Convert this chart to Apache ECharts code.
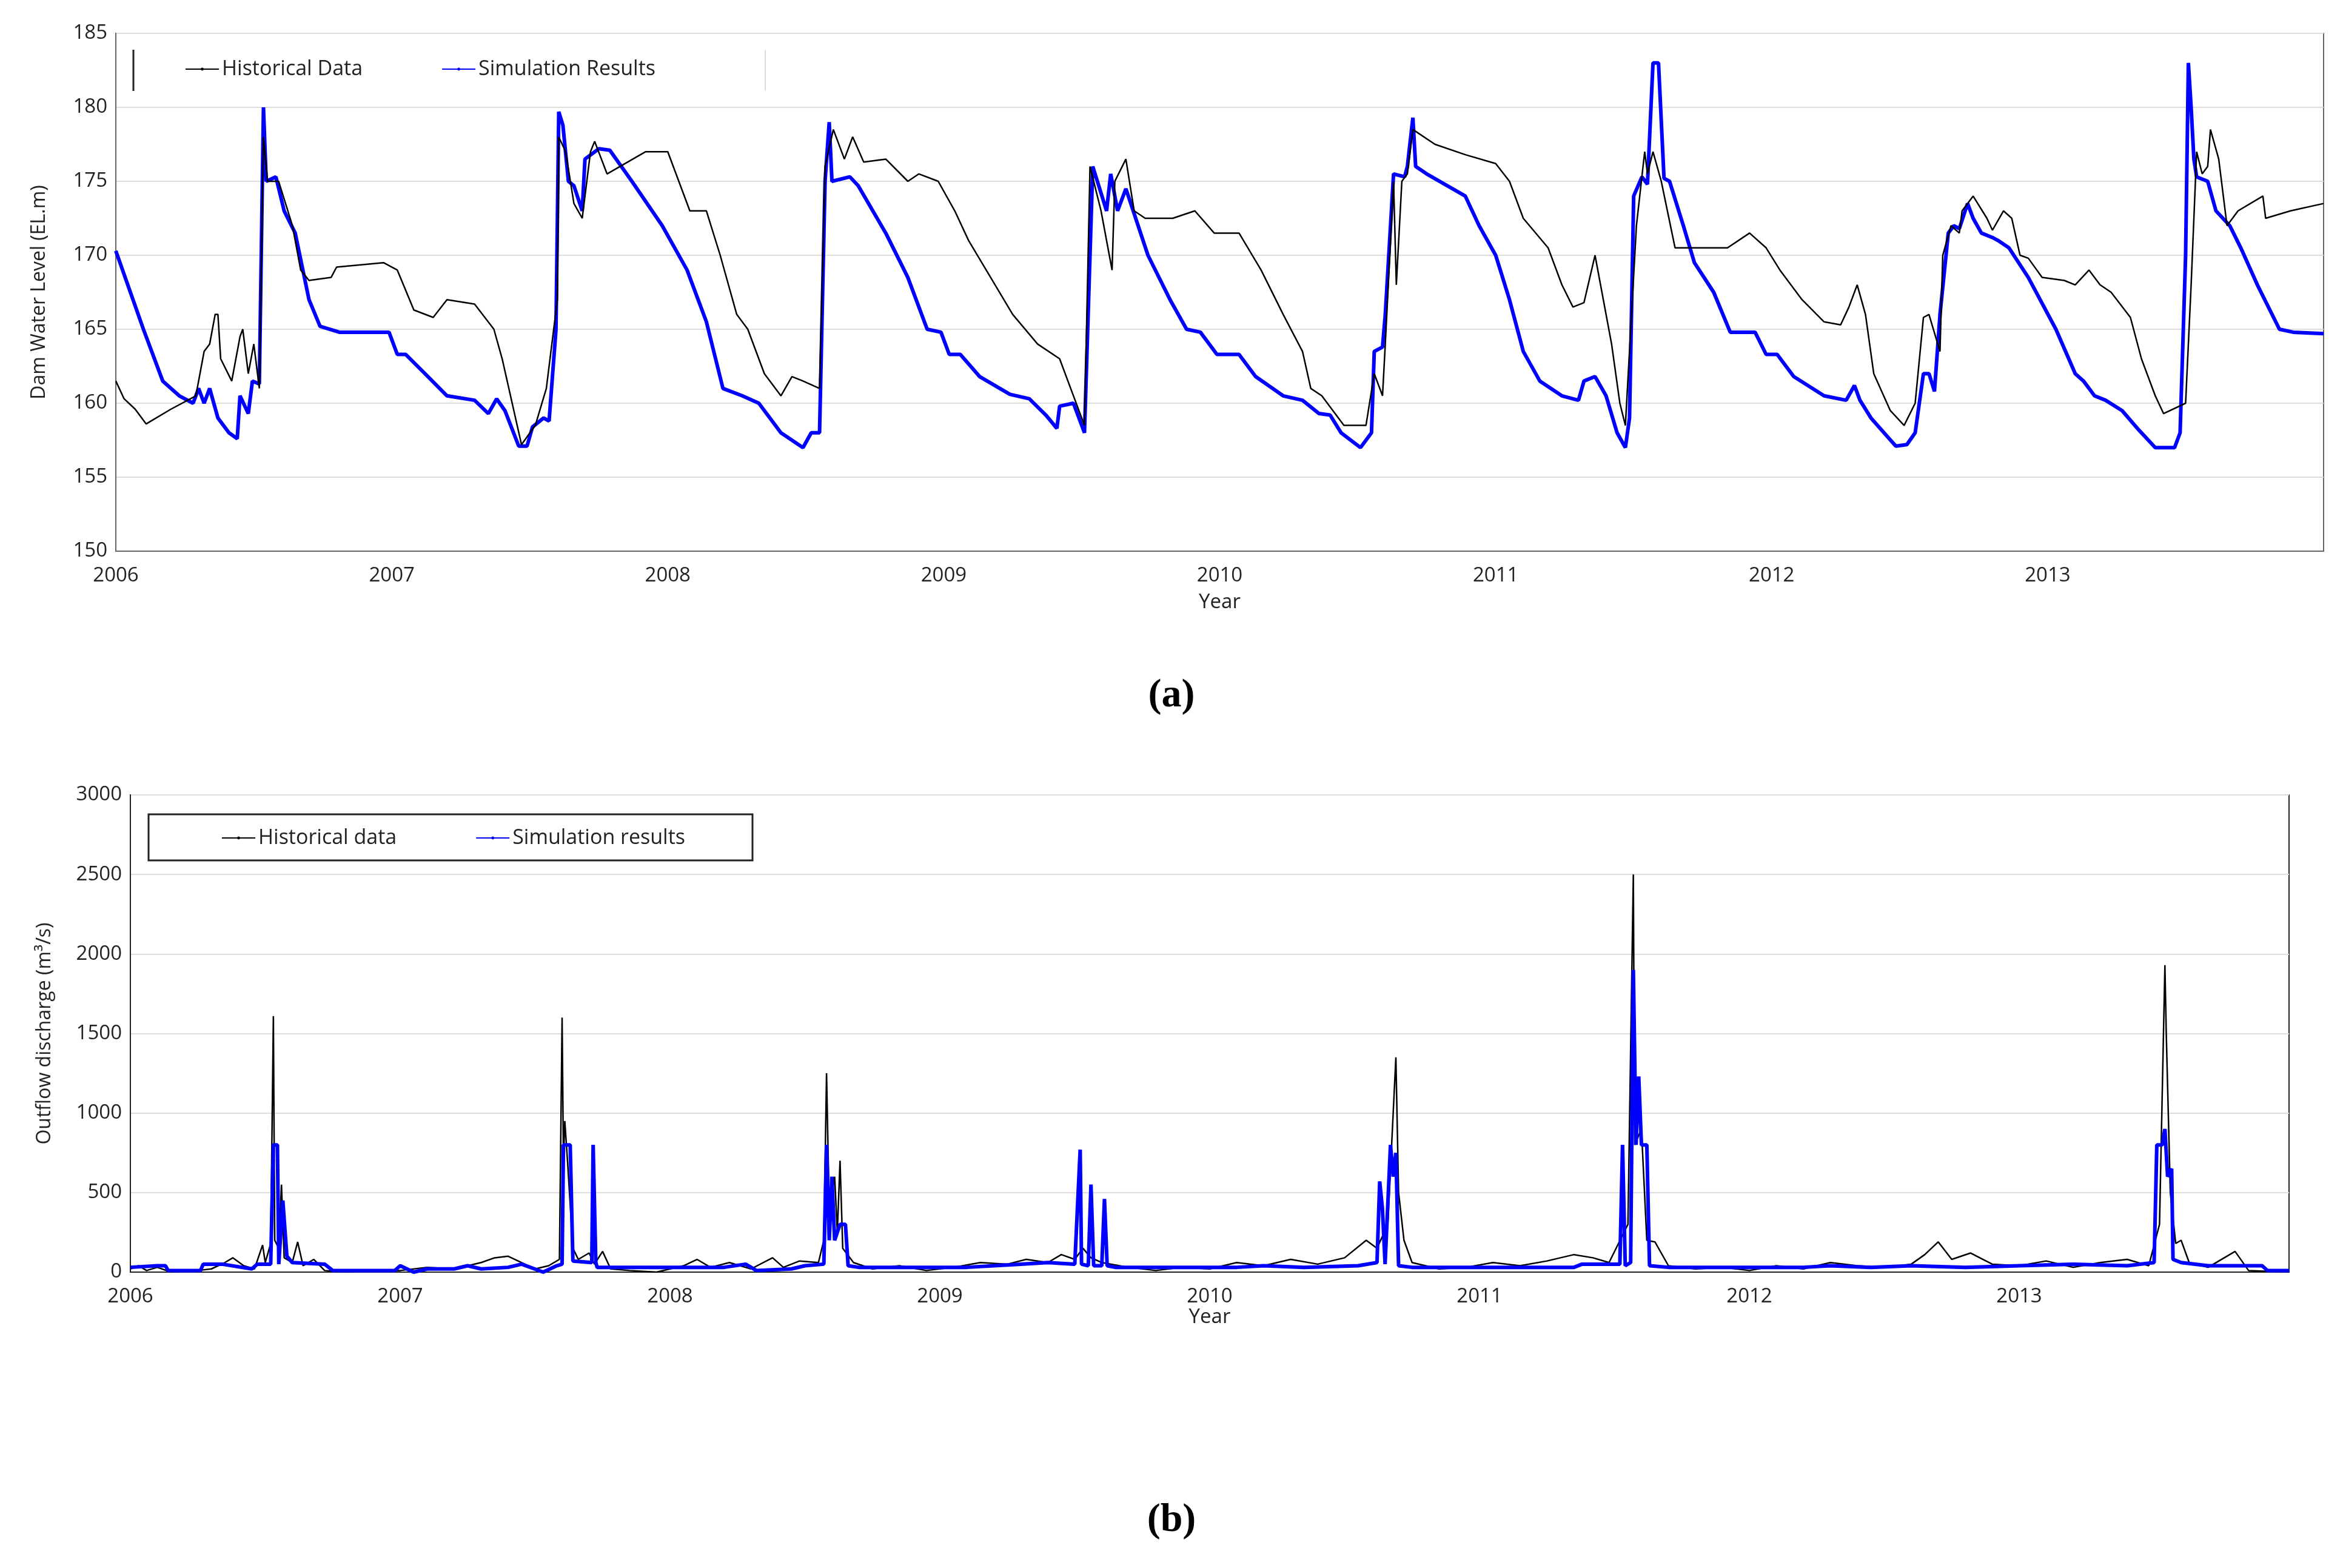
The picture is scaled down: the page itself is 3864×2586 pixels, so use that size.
<!DOCTYPE html>
<html><head><meta charset="utf-8">
<script src="https://cdn.jsdelivr.net/npm/echarts@6/dist/echarts.min.js"></script>
<style>html,body{margin:0;padding:0;background:#fff}#c{width:3864px;height:2586px}</style>
</head><body><div id="c"></div>
<script>
const yearTicks = [2006,2007,2008,2009,2010,2011,2012,2013];
const levelHist = [[2006.0,161.5],[2006.03,160.3],[2006.07,159.6],[2006.11,158.6],[2006.2,159.6],[2006.29,160.5],[2006.32,163.5],[2006.34,164],[2006.36,166],[2006.37,166],[2006.38,163],[2006.42,161.5],[2006.45,164.5],[2006.46,165],[2006.48,162],[2006.5,164],[2006.52,161],[2006.535,178],[2006.55,175],[2006.59,175],[2006.64,172],[2006.67,169],[2006.7,168.3],[2006.78,168.5],[2006.8,169.2],[2006.97,169.5],[2007.02,169],[2007.08,166.3],[2007.15,165.8],[2007.2,167],[2007.3,166.7],[2007.37,165],[2007.4,163],[2007.47,157.2],[2007.52,158.5],[2007.56,161],[2007.6,167],[2007.605,178],[2007.63,177],[2007.66,173.5],[2007.69,172.5],[2007.72,177],[2007.735,177.7],[2007.78,175.5],[2007.92,177],[2008.0,177],[2008.04,175],[2008.08,173],[2008.14,173],[2008.19,170],[2008.25,166],[2008.29,165],[2008.35,162],[2008.41,160.5],[2008.45,161.8],[2008.49,161.5],[2008.55,161],[2008.57,176],[2008.6,178.5],[2008.64,176.5],[2008.67,178],[2008.71,176.3],[2008.79,176.5],[2008.87,175],[2008.91,175.5],[2008.98,175],[2009.04,173],[2009.09,171],[2009.17,168.5],[2009.25,166],[2009.34,164],[2009.42,163],[2009.46,161],[2009.51,158.5],[2009.53,176],[2009.57,173],[2009.61,169],[2009.62,175],[2009.66,176.5],[2009.69,173],[2009.73,172.5],[2009.83,172.5],[2009.91,173],[2009.98,171.5],[2010.07,171.5],[2010.15,169],[2010.23,166],[2010.3,163.5],[2010.33,161],[2010.37,160.5],[2010.45,158.5],[2010.53,158.5],[2010.56,162],[2010.59,160.5],[2010.6,164],[2010.63,175],[2010.64,168],[2010.66,175],[2010.68,175.5],[2010.7,178.5],[2010.78,177.5],[2010.89,176.8],[2011.0,176.2],[2011.05,175],[2011.1,172.5],[2011.19,170.5],[2011.24,168],[2011.28,166.5],[2011.32,166.8],[2011.36,170],[2011.38,168],[2011.42,164],[2011.45,160],[2011.47,158.5],[2011.51,172],[2011.54,177],[2011.55,175.5],[2011.57,177],[2011.6,175],[2011.65,170.5],[2011.73,170.5],[2011.84,170.5],[2011.92,171.5],[2011.98,170.5],[2012.03,169],[2012.11,167],[2012.19,165.5],[2012.25,165.3],[2012.28,166.5],[2012.31,168],[2012.34,166],[2012.37,162],[2012.43,159.5],[2012.48,158.5],[2012.52,160],[2012.55,165.8],[2012.57,166],[2012.61,163.5],[2012.62,170],[2012.65,172],[2012.68,171.5],[2012.69,173],[2012.73,174],[2012.78,172.5],[2012.8,171.7],[2012.84,173],[2012.87,172.5],[2012.9,170],[2012.93,169.8],[2012.98,168.5],[2013.06,168.3],[2013.1,168],[2013.15,169],[2013.19,168],[2013.23,167.5],[2013.3,165.8],[2013.34,163],[2013.39,160.5],[2013.42,159.3],[2013.5,160],[2013.52,168],[2013.54,177],[2013.56,175.5],[2013.58,176],[2013.59,178.5],[2013.62,176.5],[2013.65,172],[2013.69,173],[2013.78,174],[2013.79,172.5],[2013.88,173],[2014.0,173.5]];
const levelSim = [[2006.0,170.3],[2006.1,165],[2006.17,161.5],[2006.23,160.5],[2006.28,160],[2006.3,161],[2006.32,160],[2006.34,161],[2006.37,159],[2006.41,158],[2006.44,157.6],[2006.45,160.5],[2006.48,159.3],[2006.495,161.5],[2006.52,161.3],[2006.535,180],[2006.545,175],[2006.58,175.3],[2006.61,173],[2006.65,171.5],[2006.7,167],[2006.74,165.2],[2006.81,164.8],[2006.99,164.8],[2007.02,163.3],[2007.05,163.3],[2007.12,162],[2007.2,160.5],[2007.3,160.2],[2007.35,159.3],[2007.38,160.3],[2007.41,159.5],[2007.46,157.1],[2007.49,157.1],[2007.51,158.4],[2007.55,159],[2007.57,158.8],[2007.595,165],[2007.605,179.7],[2007.62,178.8],[2007.64,175],[2007.66,174.7],[2007.69,173],[2007.7,176.5],[2007.75,177.2],[2007.79,177.1],[2007.87,175],[2007.98,172],[2008.07,169],[2008.14,165.5],[2008.2,161],[2008.27,160.5],[2008.33,160],[2008.41,158],[2008.49,157],[2008.52,158],[2008.55,158],[2008.57,175],[2008.585,179],[2008.595,175],[2008.66,175.3],[2008.69,174.7],[2008.79,171.5],[2008.87,168.5],[2008.94,165],[2008.99,164.8],[2009.02,163.3],[2009.06,163.3],[2009.13,161.8],[2009.24,160.6],[2009.31,160.3],[2009.37,159.2],[2009.41,158.3],[2009.42,159.8],[2009.47,160],[2009.51,158],[2009.54,176],[2009.565,174.5],[2009.59,173],[2009.605,175.5],[2009.63,173],[2009.66,174.5],[2009.74,170],[2009.82,167],[2009.88,165],[2009.93,164.8],[2009.99,163.3],[2010.07,163.3],[2010.13,161.8],[2010.23,160.5],[2010.3,160.2],[2010.36,159.3],[2010.4,159.2],[2010.44,158],[2010.51,157],[2010.53,157.5],[2010.55,158],[2010.56,163.5],[2010.59,163.8],[2010.6,166],[2010.63,175.5],[2010.67,175.3],[2010.68,176],[2010.7,179.3],[2010.71,176],[2010.75,175.5],[2010.89,174],[2010.94,172],[2011.0,170],[2011.05,167],[2011.1,163.5],[2011.16,161.5],[2011.24,160.5],[2011.3,160.2],[2011.32,161.5],[2011.36,161.8],[2011.4,160.5],[2011.44,158],[2011.47,157],[2011.485,159],[2011.5,174],[2011.53,175.3],[2011.55,174.8],[2011.57,183],[2011.59,183],[2011.61,175.2],[2011.63,175],[2011.68,172],[2011.72,169.5],[2011.79,167.5],[2011.85,164.8],[2011.94,164.8],[2011.98,163.3],[2012.02,163.3],[2012.08,161.8],[2012.19,160.5],[2012.27,160.2],[2012.3,161.2],[2012.32,160.2],[2012.36,159],[2012.45,157.1],[2012.49,157.2],[2012.52,158],[2012.55,162],[2012.57,162],[2012.59,160.8],[2012.61,166],[2012.64,171.5],[2012.66,172],[2012.68,171.8],[2012.71,173.5],[2012.73,172.5],[2012.76,171.5],[2012.8,171.2],[2012.82,171],[2012.86,170.5],[2012.93,168.5],[2013.03,165],[2013.1,162],[2013.13,161.5],[2013.17,160.5],[2013.21,160.2],[2013.27,159.5],[2013.33,158.2],[2013.39,157],[2013.46,157],[2013.48,158],[2013.5,170],[2013.51,183],[2013.52,180],[2013.53,176.5],[2013.54,175.3],[2013.58,175],[2013.61,173],[2013.66,172],[2013.7,170.5],[2013.76,168],[2013.84,165],[2013.89,164.8],[2014.0,164.7]];
const flowHist = [[2006.0,20],[2006.03,40],[2006.06,10],[2006.1,30],[2006.15,0],[2006.25,10],[2006.3,20],[2006.35,60],[2006.38,90],[2006.42,40],[2006.46,20],[2006.49,170],[2006.5,60],[2006.52,180],[2006.53,1610],[2006.535,200],[2006.55,150],[2006.56,550],[2006.57,90],[2006.6,60],[2006.62,190],[2006.64,40],[2006.68,80],[2006.72,10],[2006.8,0],[2006.9,10],[2007.0,10],[2007.1,30],[2007.2,20],[2007.3,60],[2007.35,90],[2007.4,100],[2007.45,60],[2007.5,20],[2007.55,40],[2007.59,80],[2007.6,1600],[2007.605,700],[2007.61,950],[2007.62,700],[2007.64,150],[2007.66,80],[2007.7,120],[2007.72,50],[2007.75,130],[2007.78,20],[2007.85,10],[2007.95,0],[2008.05,40],[2008.1,80],[2008.15,30],[2008.22,60],[2008.3,20],[2008.38,90],[2008.42,30],[2008.48,70],[2008.55,60],[2008.57,200],[2008.58,1250],[2008.59,400],[2008.61,600],[2008.62,250],[2008.63,700],[2008.64,150],[2008.68,60],[2008.75,20],[2008.85,40],[2008.95,10],[2009.05,30],[2009.15,60],[2009.25,50],[2009.32,80],[2009.4,60],[2009.45,110],[2009.5,80],[2009.53,150],[2009.56,90],[2009.6,60],[2009.7,30],[2009.8,10],[2009.9,30],[2010.0,20],[2010.1,60],[2010.2,40],[2010.3,80],[2010.4,50],[2010.5,90],[2010.58,200],[2010.62,150],[2010.66,300],[2010.69,1350],[2010.7,500],[2010.72,200],[2010.75,60],[2010.85,20],[2010.95,30],[2011.05,60],[2011.15,40],[2011.25,70],[2011.35,110],[2011.42,90],[2011.48,60],[2011.55,300],[2011.57,2500],[2011.575,800],[2011.6,900],[2011.62,200],[2011.65,190],[2011.7,40],[2011.8,20],[2011.9,30],[2012.0,10],[2012.1,40],[2012.2,20],[2012.3,60],[2012.4,40],[2012.5,30],[2012.6,50],[2012.65,110],[2012.7,190],[2012.75,80],[2012.82,120],[2012.9,50],[2013.0,40],[2013.1,70],[2013.2,30],[2013.3,60],[2013.4,80],[2013.48,40],[2013.52,300],[2013.54,1930],[2013.545,1500],[2013.56,500],[2013.58,180],[2013.6,200],[2013.63,60],[2013.7,30],[2013.8,130],[2013.85,10],[2014.0,0]];
const flowSim = [[2006.0,30],[2006.1,40],[2006.13,40],[2006.14,10],[2006.26,10],[2006.27,50],[2006.34,50],[2006.45,20],[2006.47,50],[2006.52,50],[2006.53,800],[2006.545,800],[2006.55,50],[2006.565,450],[2006.58,100],[2006.6,60],[2006.72,50],[2006.75,10],[2006.98,10],[2007.0,40],[2007.05,0],[2007.1,20],[2007.2,20],[2007.25,40],[2007.3,20],[2007.4,30],[2007.45,50],[2007.53,0],[2007.58,40],[2007.6,50],[2007.605,800],[2007.63,800],[2007.64,70],[2007.71,60],[2007.715,800],[2007.725,60],[2007.73,30],[2008.2,30],[2008.28,50],[2008.32,10],[2008.45,20],[2008.5,40],[2008.57,50],[2008.58,800],[2008.59,200],[2008.6,600],[2008.61,200],[2008.63,300],[2008.65,300],[2008.66,40],[2008.7,30],[2009.1,30],[2009.2,40],[2009.3,50],[2009.4,60],[2009.5,50],[2009.52,770],[2009.525,50],[2009.55,40],[2009.56,550],[2009.57,40],[2009.6,40],[2009.61,460],[2009.62,40],[2009.65,30],[2010.1,30],[2010.2,40],[2010.35,30],[2010.55,40],[2010.62,60],[2010.63,570],[2010.64,400],[2010.65,50],[2010.67,800],[2010.68,600],[2010.69,750],[2010.7,40],[2010.75,30],[2011.35,30],[2011.38,50],[2011.52,50],[2011.53,800],[2011.54,40],[2011.56,60],[2011.57,1900],[2011.58,800],[2011.59,1230],[2011.6,800],[2011.62,800],[2011.63,40],[2011.7,30],[2012.2,30],[2012.3,40],[2012.45,30],[2012.6,40],[2012.8,30],[2013.0,40],[2013.2,50],[2013.4,40],[2013.5,60],[2013.51,800],[2013.53,800],[2013.54,900],[2013.55,600],[2013.565,650],[2013.57,80],[2013.6,60],[2013.7,40],[2013.9,40],[2013.92,10],[2014.0,10]];

const chart = echarts.init(document.getElementById('c'));
const F = 'Open Sans, Liberation Sans, sans-serif';
const xLabel = {fontFamily:F,fontSize:33,color:'#222',margin:24,formatter:v=>v<2014?String(v):''};
const yLabel = {fontFamily:F,fontSize:33,color:'#222',margin:14,formatter:v=>String(v)};
chart.setOption({
  animation:false,
  backgroundColor:'#fff',
  grid:[
    {left:191,right:32,top:55,height:854,show:true,borderColor:'#666',borderWidth:2},
    {left:215,right:89,top:1311,height:787,show:true,borderColor:'#222',borderWidth:2}
  ],
  xAxis:[
    {gridIndex:0,type:'value',min:2006,max:2014,interval:1,axisLabel:xLabel,axisTick:{show:false},axisLine:{lineStyle:{color:'#666',width:2}},splitLine:{show:false},
     name:'Year',nameLocation:'middle',nameGap:68,nameTextStyle:{fontFamily:F,fontSize:33,color:'#222'}},
    {gridIndex:1,type:'value',min:2006,max:2014,interval:1,axisLabel:xLabel,axisTick:{show:false},axisLine:{lineStyle:{color:'#222',width:2}},splitLine:{show:false},
     name:'Year',nameLocation:'middle',nameGap:58,nameTextStyle:{fontFamily:F,fontSize:33,color:'#222'}}
  ],
  yAxis:[
    {gridIndex:0,type:'value',min:150,max:185,interval:5,axisLabel:yLabel,axisLine:{show:true,lineStyle:{color:'#666',width:2}},axisTick:{show:false},splitLine:{lineStyle:{color:'#ddd',width:2}},
     name:'Dam Water Level (EL.m)',nameLocation:'middle',nameGap:110,nameTextStyle:{fontFamily:F,fontSize:32,color:'#222'}},
    {gridIndex:1,type:'value',min:0,max:3000,interval:500,axisLabel:yLabel,axisLine:{show:true,lineStyle:{color:'#222',width:2}},axisTick:{show:false},splitLine:{lineStyle:{color:'#ddd',width:2}},
     name:'Outflow discharge (m³/s)',nameLocation:'middle',nameGap:125,nameTextStyle:{fontFamily:F,fontSize:32,color:'#222'}}
  ],
  legend:[
    {data:['Historical Data','Simulation Results'],left:300,top:92,itemWidth:55,itemHeight:6,itemGap:130,textStyle:{fontFamily:F,fontSize:34,color:'#222'}},
    {data:['Historical data','Simulation results'],left:360,top:1360,itemWidth:55,itemHeight:6,itemGap:130,textStyle:{fontFamily:F,fontSize:34,color:'#222'}}
  ],
  graphic:[
    {type:'line',shape:{x1:220,y1:82,x2:220,y2:150},style:{stroke:'#222',lineWidth:3}},
    {type:'line',shape:{x1:1262,y1:82,x2:1262,y2:150},style:{stroke:'#ddd',lineWidth:2}},
    {type:'rect',shape:{x:245,y:1343,width:996,height:76},style:{fill:'none',stroke:'#222',lineWidth:3}},
    {type:'text',left:'center',top:1115,style:{text:'(a)',font:'bold 66px "Liberation Serif", serif',fill:'#000'}},
    {type:'text',left:'center',top:2475,style:{text:'(b)',font:'bold 66px "Liberation Serif", serif',fill:'#000'}}
  ],
  series:[
    {name:'Historical Data',type:'line',xAxisIndex:0,yAxisIndex:0,data:levelHist,symbol:'none',lineStyle:{color:'#000',width:2.5},itemStyle:{color:'#000'},z:3},
    {name:'Simulation Results',type:'line',xAxisIndex:0,yAxisIndex:0,data:levelSim,symbol:'none',lineStyle:{color:'#0000ff',width:6},itemStyle:{color:'#0000ff'},z:2},
    {name:'Historical data',type:'line',xAxisIndex:1,yAxisIndex:1,data:flowHist,symbol:'none',lineStyle:{color:'#000',width:2.5},itemStyle:{color:'#000'},z:2},
    {name:'Simulation results',type:'line',xAxisIndex:1,yAxisIndex:1,data:flowSim,symbol:'none',lineStyle:{color:'#0000ff',width:6},itemStyle:{color:'#0000ff'},z:3}
  ]
});
</script></body></html>
